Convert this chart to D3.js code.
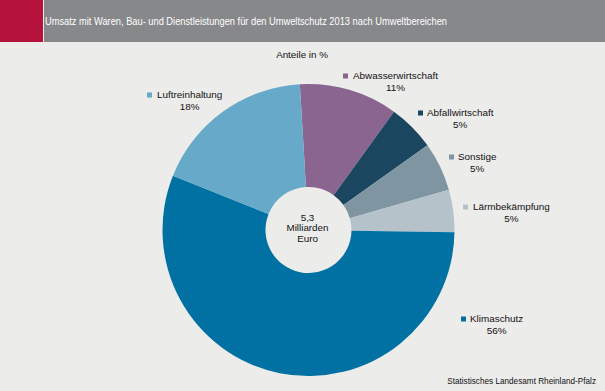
<!DOCTYPE html>
<html><head><meta charset="utf-8">
<script src="https://cdn.jsdelivr.net/npm/d3@7"></script>
<style>
html,body{margin:0;padding:0;background:#ececeb;}
svg{display:block;font-family:"Liberation Sans",Arial,sans-serif;}
</style></head>
<body><svg id="c" width="605" height="391"></svg>
<script>
// Data
const categories = ["Abwasserwirtschaft","Abfallwirtschaft","Sonstige","Lärmbekämpfung","Klimaschutz","Luftreinhaltung"];
const shares = [10.9, 5.2, 5.4, 4.7, 55.8, 18.0];
const colors = ["#8a6590","#1b4660","#7f95a2","#b5c2ca","#0071a2","#66a9c8"];
const title = "Umsatz mit Waren, Bau- und Dienstleistungen für den Umweltschutz 2013 nach Umweltbereichen";
const subtitle = "Anteile in %";
const centerText = ["5,3","Milliarden","Euro"];
const source = "Statistisches Landesamt Rheinland-Pfalz";
// Layout for labels (marker x, text x, text center y)
const labelLayout = [
  {sx:343, tx:353, y:76},
  {sx:418, tx:427, y:113},
  {sx:449, tx:458, y:157},
  {sx:463, tx:473, y:207},
  {sx:461, tx:470, y:319},
  {sx:147, tx:157, y:95}
];

const svg = d3.select("#c");
const W = 605, H = 391;
svg.append("rect").attr("width",W).attr("height",H).attr("fill","#ececeb");
// header
svg.append("rect").attr("x",0).attr("y",0).attr("width",43).attr("height",42).attr("fill","#b5123e");
svg.append("rect").attr("x",44).attr("y",0).attr("width",W-44).attr("height",42).attr("fill","#87888a");
svg.append("text").attr("x",45).attr("y",25).attr("fill","#ffffff").attr("font-size",10.2)
  .attr("textLength",402).attr("lengthAdjust","spacingAndGlyphs").text(title);

svg.append("text").attr("x",302).attr("y",55).attr("dy","0.35em").attr("text-anchor","middle")
  .attr("font-size",9.8).attr("fill","#111").text(subtitle);

const cx = 308.5, cy = 230, R = 146, r0 = 43;
const startAngle = -3.4 * Math.PI/180;
const pie = d3.pie().sort(null).value(d=>d).startAngle(startAngle).endAngle(startAngle+2*Math.PI);
const arcs = pie(shares);
const arc = d3.arc().innerRadius(r0).outerRadius(R);
const g = svg.append("g").attr("transform",`translate(${cx},${cy})`);
g.selectAll("path").data(arcs).join("path").attr("d",arc).attr("fill",(d,i)=>colors[i]);

const ct = g.append("text").attr("text-anchor","middle").attr("font-size",9.8).attr("fill","#111");
centerText.forEach((t,i)=>{
  ct.append("tspan").attr("x",-1).attr("y",(i-1)*10.7+0.35*9.8-2).text(t);
});

const fmt = d3.format(".0f");
categories.forEach((c,i)=>{
  const L = labelLayout[i];
  svg.append("rect").attr("x",L.sx).attr("y",L.y-2.5).attr("width",5).attr("height",5).attr("fill",colors[i]);
  const t = svg.append("text").attr("x",L.tx).attr("y",L.y).attr("dy","0.35em").attr("font-size",9.9).attr("fill","#111").text(c);
  const w = t.node().getComputedTextLength();
  svg.append("text").attr("x",L.tx + w/2).attr("y",L.y+12).attr("dy","0.35em").attr("text-anchor","middle")
    .attr("font-size",9.9).attr("fill","#111").text(fmt(shares[i])+"%");
});

svg.append("text").attr("x",596).attr("y",381).attr("dy","0.35em").attr("text-anchor","end")
  .attr("font-size",8.2).attr("fill","#111").text(source);
</script></body></html>
